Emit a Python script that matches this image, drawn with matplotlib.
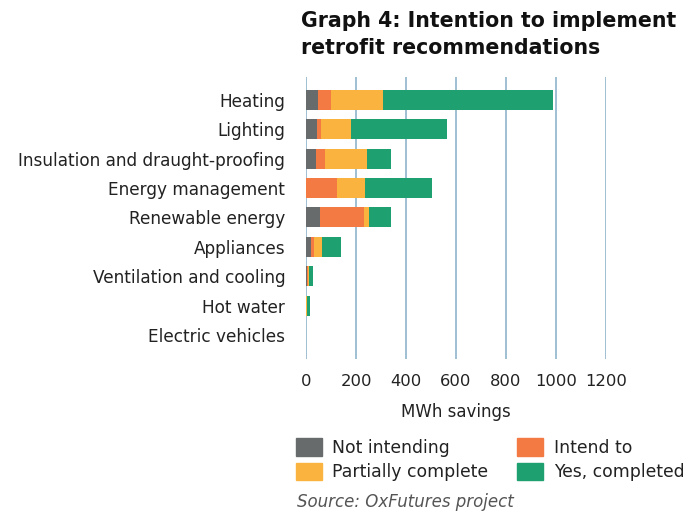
import numpy as np
import matplotlib
matplotlib.use("Agg")
from matplotlib import pyplot as plt
from matplotlib.patches import Patch

categories = ["Heating", "Lighting", "Insulation and draught-proofing",
              "Energy management", "Renewable energy", "Appliances",
              "Ventilation and cooling", "Hot water", "Electric vehicles"]
not_intending = [47, 43, 39, 0, 55, 19, 3, 0, 0]
intend_to = [52, 16, 36, 123, 176, 12, 5, 0, 0]
partially = [208, 120, 168, 112, 20, 32, 5, 5, 0]
completed = [680, 384, 96, 268, 88, 76, 16, 9, 0]

series = ["Not intending", "Intend to", "Partially complete", "Yes, completed"]
colors = ["#686b6c", "#f47a44", "#fbb33f", "#1fa071"]
xticks = [0, 200, 400, 600, 800, 1000, 1200]

plt.rcParams["font.family"] = ["DejaVu Sans"]
txt = "#222222"

fig = plt.figure(figsize=(6.97, 5.14), dpi=100)
ax = fig.add_axes([306/697, 1 - 359/514, 300/697, 282/514])

y = np.arange(len(categories))
left = np.zeros(len(categories))
for vals, col, name in zip([not_intending, intend_to, partially, completed], colors, series):
    ax.barh(y, vals, left=left, height=0.68, color=col, label=name, zorder=3)
    left += np.array(vals)

ax.set_xlim(0, 1200)
ax.set_ylim(8.82, -0.78)
ax.set_yticks(y)
ax.set_yticklabels(categories, fontsize=12.2, color=txt)
ax.set_xticks(xticks)
ax.set_xticklabels([str(t) for t in xticks], fontsize=11.8, color=txt)
ax.tick_params(axis="y", length=0, pad=15)
ax.tick_params(axis="x", length=0, pad=11)
ax.grid(axis="x", color="#8fb4cc", linewidth=1.2, zorder=0)
for s in ax.spines.values():
    s.set_visible(False)
ax.set_xlabel("MWh savings", fontsize=12, color=txt, labelpad=10)

fig.text(301/697, 1 - 11/514, "Graph 4: Intention to implement\nretrofit recommendations",
         fontsize=14.8, fontweight="bold", va="top", ha="left", color="#111111",
         linespacing=1.45)

handles = [Patch(color=colors[i]) for i in [0, 2, 1, 3]]
labels = [series[i] for i in [0, 2, 1, 3]]
fig.legend(handles, labels, ncol=2, loc="upper left",
           bbox_to_anchor=(296/697, 1 - 438/514), frameon=False,
           fontsize=12.4, handlelength=1.5, handleheight=1.2,
           handletextpad=0.6, columnspacing=1.7, labelspacing=0.35,
           borderpad=0, borderaxespad=0, labelcolor=txt)

fig.text(297/697, 1 - 502/514, "Source: OxFutures project", fontsize=12,
         style="italic", color="#555555", va="center", ha="left")

fig.savefig("out.png", dpi=100)
